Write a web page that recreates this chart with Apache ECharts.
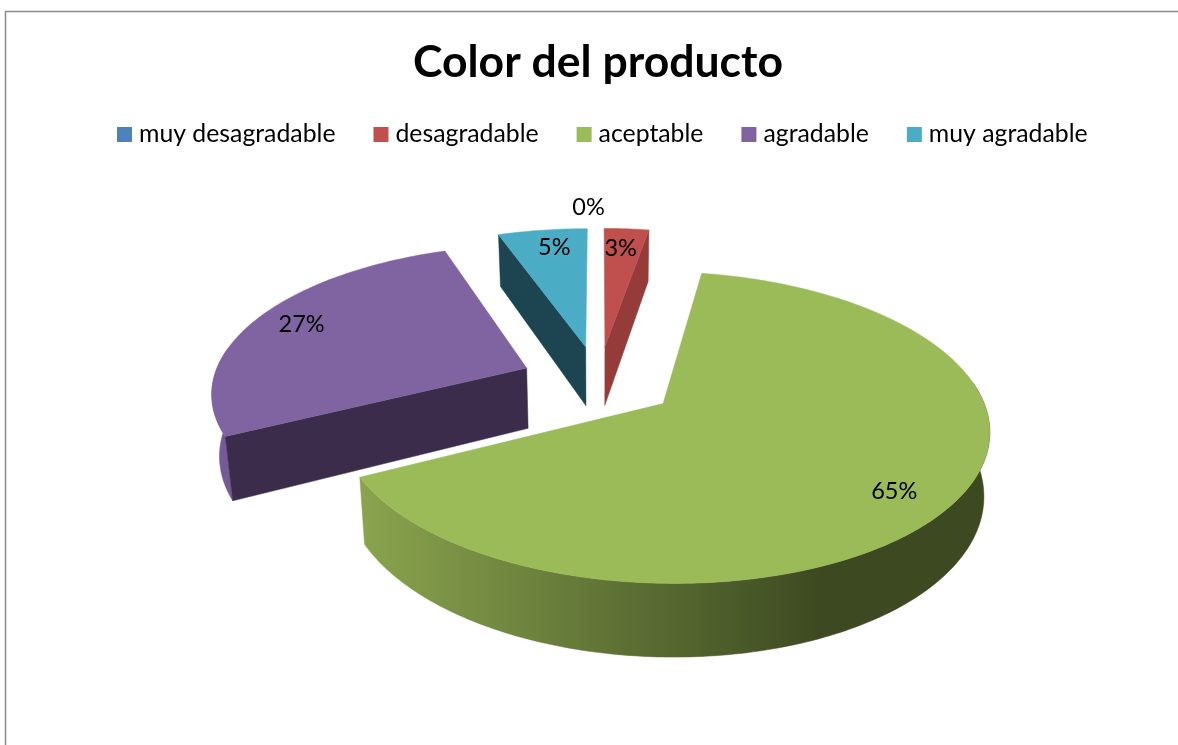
<!DOCTYPE html>
<html><head><meta charset="utf-8">
<style>html,body{margin:0;padding:0;background:#fff}#c{width:1178px;height:745px}</style>
<script src="https://cdn.jsdelivr.net/npm/echarts@6/dist/echarts.min.js"></script>
</head><body><div id="c"></div>
<script>
// Data
const titleText = 'Color del producto';
const categories = ['muy desagradable','desagradable','aceptable','agradable','muy agradable'];
const responses = [0, 1, 24, 10, 2];
const colors = ['#4F81BD','#C0504D','#9BBB59','#8064A2','#4BACC6'];
const cutColors = ['#2A4A70','#953C3A','#7A9446','#3C2C4B','#1D4451'];
const wallColors = ['#4F81BD','#C0504D','#9BBB59','#755B95','#3F909F'];

// Perspective-camera settings of the 3D pie
const view = {ox:598.5, oy:381.5, sx:314, sy:145.5, k:0.15, depth:61, taperL:0.02, taperR:0.015, explode:0.25};
const labelSpot = [{r:1.22,dx:-10,dy:1},{r:0.85,dx:-3,dy:4},{r:0.83,dx:-6,dy:7},{r:0.85,dx:5,dy:-1},{r:0.85,dx:6,dy:2}];
const FONT = 'Lato, "Noto Sans", sans-serif';

const total = responses.reduce((a,b)=>a+b,0);
const rad = d => d*Math.PI/180;
function project(X,Y,Z){
  const w = 1 - view.k*Y;
  const taper = X<0 ? view.taperL : view.taperR;
  return [view.ox + view.sx*X/w*(1-taper*Z), view.oy + (view.sy*Y + view.depth*Z)/w];
}
function sliceAngles(i){
  let s = 0;
  for(let j=0;j<i;j++) s += responses[j];
  return [s/total*360, (s+responses[i])/total*360];
}
function rim(a, off, r){ return [off[0]+r*Math.sin(rad(a)), off[1]-r*Math.cos(rad(a))]; }
function arcPts(a0,a1,off,Z){
  const out=[]; const n=Math.max(2,Math.ceil(Math.abs(a1-a0)));
  for(let t=0;t<=n;t++){
    const a=a0+(a1-a0)*t/n, p=rim(a,off,1);
    out.push(project(p[0],p[1],Z));
  }
  return out;
}
function poly(points,fill,z2){
  return {type:'polygon',z2:z2,shape:{points:points},style:{fill:fill,stroke:fill,lineWidth:0.5}};
}
function renderSlice(i){
  return function(params, api){
    const v = api.value(0);
    const [a0,a1] = sliceAngles(i);
    const mid = (a0+a1)/2;
    const off = [view.explode*Math.sin(rad(mid)), -view.explode*Math.cos(rad(mid))];
    const children = [];
    if(v>0){
      const wa0=Math.max(a0,82), wa1=Math.min(a1,278);
      if(wa1>wa0){
        const top=arcPts(wa0,wa1,off,0), bot=arcPts(wa0,wa1,off,1).reverse();
        let wallFill = wallColors[i];
        if(i===2){
          wallFill = new echarts.graphic.LinearGradient(0,0,1,0,[
            {offset:0,color:'#8AA44E'},{offset:0.73,color:'#3D4A21'},{offset:1,color:'#3D4A21'}
          ]);
        }
        children.push(poly(top.concat(bot),wallFill,1));
      }
      // a cut face shows only when its outward normal points towards the viewer
      [[a0,a0-90],[a1,a1+90]].forEach(([a,n])=>{
        if(-Math.cos(rad(n))<=0.01) return;
        const p=rim(a,off,1);
        children.push(poly([project(off[0],off[1],0),project(p[0],p[1],0),project(p[0],p[1],1),project(off[0],off[1],1)],cutColors[i],2));
      });
      const face=[project(off[0],off[1],0)].concat(arcPts(a0,a1,off,0));
      children.push(poly(face,colors[i],3));
    }
    const sp=labelSpot[i], lp=rim(mid,off,sp.r), q=project(lp[0],lp[1],0);
    children.push({type:'text',z2:10,style:{
      text:Math.round(v/total*100)+'%',x:q[0]+(sp.dx||0),y:q[1]+(sp.dy||0),
      fill:'#000',font:'23.5px '+FONT,align:'center',verticalAlign:'middle'}});
    return {type:'group',children:children};
  };
}

const chart = echarts.init(document.getElementById('c'),null,{renderer:'canvas'});
chart.setOption({
  animation:false,
  backgroundColor:'#fff',
  title:{text:titleText,left:593,top:35,textAlign:'center',
    textStyle:{fontFamily:FONT,fontWeight:'bold',fontSize:44.5,color:'#000'}},
  legend:{data:categories,left:112,top:117,icon:'rect',itemWidth:15,itemHeight:15,itemGap:38,
    selectedMode:false,
    textStyle:{fontFamily:FONT,fontSize:24.8,color:'#000',padding:[0,0,0,2]}},
  graphic:[{type:'polyline',silent:true,shape:{points:[[5.5,745],[5.5,11.5],[1178,11.5]]},
    style:{fill:null,stroke:'#8A8A8A',lineWidth:1.5}}],
  series:categories.map((name,i)=>({
    type:'custom',name:name,coordinateSystem:'none',silent:true,
    itemStyle:{color:colors[i]},
    renderItem:renderSlice(i),
    data:[[responses[i]]]
  }))
});
</script></body></html>
